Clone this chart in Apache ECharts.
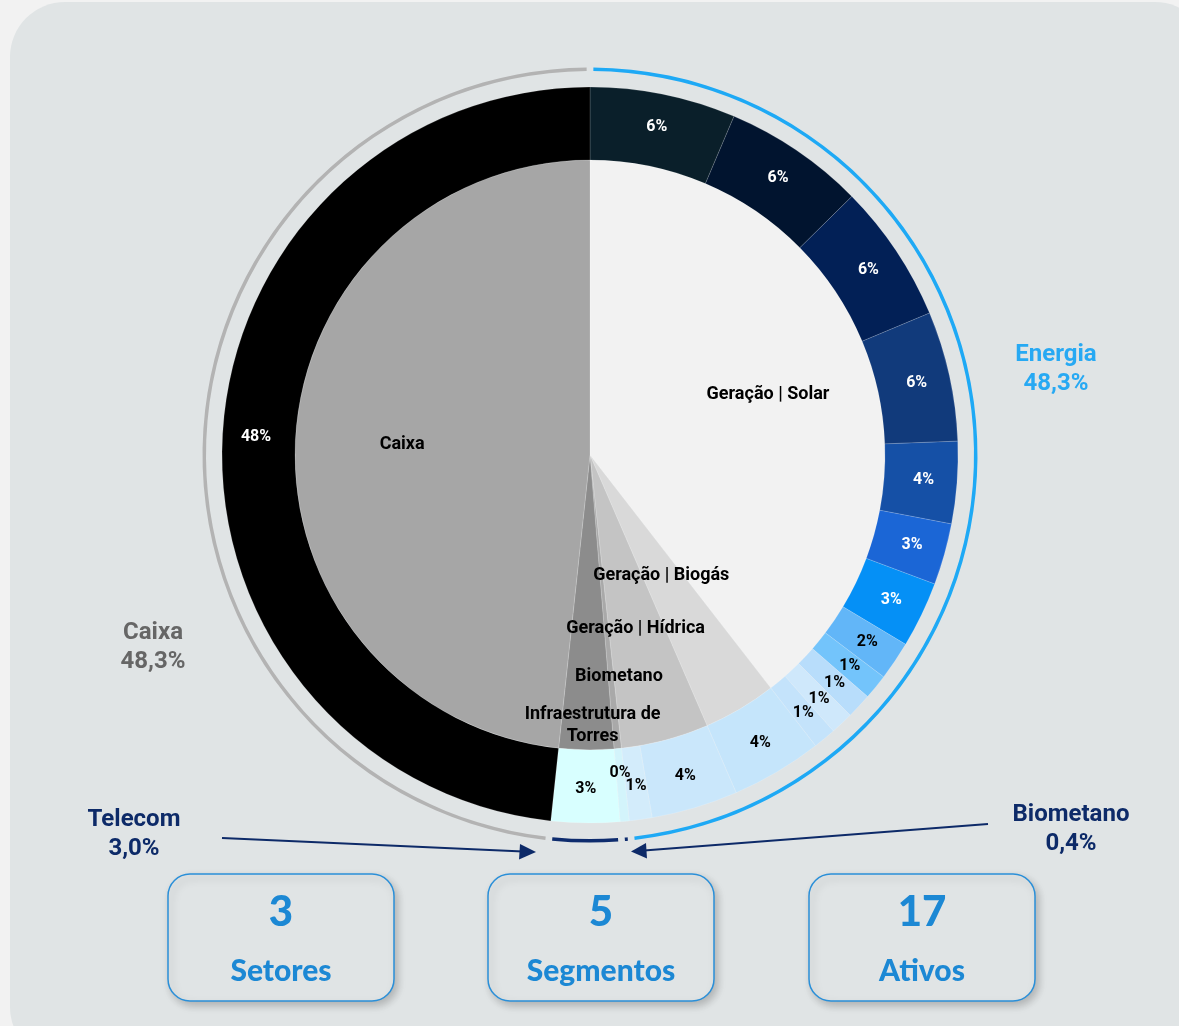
<!DOCTYPE html>
<html>
<head>
<meta charset="utf-8">
<script src="https://cdn.jsdelivr.net/npm/echarts@6/dist/echarts.min.js"></script>
<style>
  html, body { margin: 0; padding: 0; background: #f2f2f2; width: 1179px; height: 1026px; overflow: hidden; }
  #card { position: absolute; left: 10px; top: 2px; width: 1200px; height: 1060px; background: #e0e4e5; border-radius: 55px; }
  #chart { position: absolute; left: 0; top: 0; width: 1179px; height: 1026px; }
</style>
</head>
<body>
<div id="card"></div>
<div id="chart"></div>
<script>
// ---------- DATA ----------
const assetNames = ['Solar A1','Solar A2','Solar A3','Solar A4','Solar A5','Solar A6','Solar A7','Solar A8','Solar A9','Solar A10','Solar A11','Solar A12','Biogás A1','Hídrica A1','Hídrica A2','Biometano A1','Torres A1','Caixa'];
const assetValues = [6.4, 6.2, 6.1, 5.7, 3.6, 2.7, 2.9, 1.7, 1.1, 1.1, 1.0, 1.0, 4.0, 3.8, 1.0, 0.4, 3.0, 48.3];

const segmentNames = ['Geração | Solar','Geração | Biogás','Geração | Hídrica','Biometano','Infraestrutura de Torres','Caixa'];
const segmentValues = [39.5, 4.0, 4.8, 0.4, 3.0, 48.3];

const sectorNames = ['Energia','Biometano','Telecom','Caixa'];
const sectorValues = [48.3, 0.4, 3.0, 48.3];

const kpiValues = ['3','5','17'];
const kpiLabels = ['Setores','Segmentos','Ativos'];

// ---------- STYLE ----------
const assetColors = ['#0a1f2a','#01142f','#022056','#113a7b','#1550a6','#1b66d6','#0590f6','#62b6f8','#73c4fb','#b8ddfb','#cfe8fb','#c4e3fb','#c5e5fb','#cae7fb','#d3ecfb','#d3f4fb','#d8ffff','#000000'];
const assetLabelColors = assetColors.map((c, i) => (i <= 6 || i === 17) ? '#ffffff' : '#000000');
const segmentColors = ['#f2f2f2','#d9d9d9','#c4c4c4','#a9a9a9','#8c8c8c','#a6a6a6'];
const sectorColors = ['#1ea9f5','#0e2c6e','#0e2c6e','#b3b3b3'];
const sectorTextColors = ['#27a9f3','#0d2a68','#0d2a68','#666666'];
const sectorTextPos = { 'Energia': [1056, 369], 'Biometano': [1071, 829], 'Telecom': [134, 834], 'Caixa': [153, 647] };
const segmentLabelRadial = [1.25, 0.93, 1.19, 1.48, 1.8, 1.25];
const segmentLabelShiftX = [0, 0, 0, 8, 6, 0];
const assetLabelRadial = assetValues.map((v, i) => i === 15 ? 0.955 : 1);

const CX = 590, CY = 455;
const FONT = 'Roboto, "Noto Sans", sans-serif';

function radialLayout(factors, shiftX) {
  return function (p) {
    const r = p.labelRect;
    const lx = r.x + r.width / 2, ly = r.y + r.height / 2;
    const f = factors[p.dataIndex];
    const sx = shiftX ? shiftX[p.dataIndex] : 0;
    return { dx: (f - 1) * (lx - CX) + sx, dy: (f - 1) * (ly - CY) };
  };
}

const chart = echarts.init(document.getElementById('chart'), null, { renderer: 'canvas' });

const graphics = [];
// sector side labels
sectorNames.forEach((n, i) => {
  const pos = sectorTextPos[n];
  graphics.push({
    type: 'text', silent: true,
    style: {
      text: n + '\n' + sectorValues[i].toFixed(1).replace('.', ',') + '%',
      x: pos[0], y: pos[1], fill: sectorTextColors[i],
      font: 'bold 24px ' + FONT, lineHeight: 29,
      textAlign: 'center', textVerticalAlign: 'middle', align: 'center', verticalAlign: 'middle'
    }
  });
});
// arrows
const arrowColor = '#0d2a68';
graphics.push({ type: 'line', silent: true, shape: { x1: 222, y1: 838, x2: 523, y2: 851.5 }, style: { stroke: arrowColor, lineWidth: 2 } });
graphics.push({ type: 'polygon', silent: true, shape: { points: [[536, 852], [520, 844], [519, 859.5]] }, style: { fill: arrowColor } });
graphics.push({ type: 'line', silent: true, shape: { x1: 988, y1: 824, x2: 644, y2: 850.5 }, style: { stroke: arrowColor, lineWidth: 2 } });
graphics.push({ type: 'polygon', silent: true, shape: { points: [[631, 851.5], [646, 843], [647, 858.5]] }, style: { fill: arrowColor } });
// KPI boxes
const boxX = [168, 488, 809];
kpiValues.forEach((v, i) => {
  const x = boxX[i], w = 226, y = 874, h = 127;
  graphics.push({
    type: 'rect', silent: true,
    shape: { x: x, y: y, width: w, height: h, r: 22 },
    style: { fill: '#e0e4e5', stroke: '#2a8fd8', lineWidth: 1.5, shadowBlur: 8, shadowOffsetX: 3, shadowOffsetY: 4, shadowColor: 'rgba(0,0,0,0.22)' }
  });
  graphics.push({
    type: 'text', silent: true,
    style: { text: v, x: x + w / 2, y: 912, fill: '#1c88d4', font: '900 42px Lato, ' + FONT,
      textAlign: 'center', textVerticalAlign: 'middle', align: 'center', verticalAlign: 'middle' }
  });
  graphics.push({
    type: 'text', silent: true,
    style: { text: kpiLabels[i], x: x + w / 2, y: 971, fill: '#1c88d4', font: '900 30px Lato, ' + FONT,
      textAlign: 'center', textVerticalAlign: 'middle', align: 'center', verticalAlign: 'middle' }
  });
});

const option = {
  backgroundColor: 'transparent',
  animation: false,
  textStyle: { fontFamily: FONT },
  graphic: graphics,
  series: [
    {
      type: 'pie', name: 'Segmentos', silent: true,
      center: [CX, CY], radius: [0, 295], startAngle: 90, clockwise: true,
      emphasis: { disabled: true },
      itemStyle: { borderColor: 'rgba(255,255,255,0.35)', borderWidth: 0.5 },
      label: {
        show: true, position: 'inside', color: '#000', fontFamily: FONT, fontWeight: 'bold', fontSize: 18, lineHeight: 22,
        formatter: p => p.name.replace('de Torres', 'de\nTorres')
      },
      labelLine: { show: false },
      labelLayout: radialLayout(segmentLabelRadial, segmentLabelShiftX),
      data: segmentNames.map((n, i) => ({ name: n, value: segmentValues[i], itemStyle: { color: segmentColors[i] } }))
    },
    {
      type: 'pie', name: 'Ativos', silent: true,
      center: [CX, CY], radius: [295, 368], startAngle: 90, clockwise: true,
      emphasis: { disabled: true },
      itemStyle: { borderColor: 'rgba(255,255,255,0.3)', borderWidth: 0.5 },
      label: {
        show: true, position: 'inside', fontFamily: FONT, fontWeight: 'bold', fontSize: 16,
        formatter: p => Math.round(p.value) + '%'
      },
      labelLine: { show: false },
      labelLayout: radialLayout(assetLabelRadial),
      data: assetNames.map((n, i) => ({ name: n, value: assetValues[i], itemStyle: { color: assetColors[i] }, label: { color: assetLabelColors[i] } }))
    },
    {
      type: 'pie', name: 'Setores', silent: true,
      center: [CX, CY], radius: [384, 387.5], startAngle: 90, clockwise: true, padAngle: 1,
      emphasis: { disabled: true },
      label: { show: false }, labelLine: { show: false },
      data: sectorNames.map((n, i) => ({ name: n, value: sectorValues[i], itemStyle: { color: sectorColors[i] } }))
    }
  ]
};
chart.setOption(option);
</script>
</body>
</html>
